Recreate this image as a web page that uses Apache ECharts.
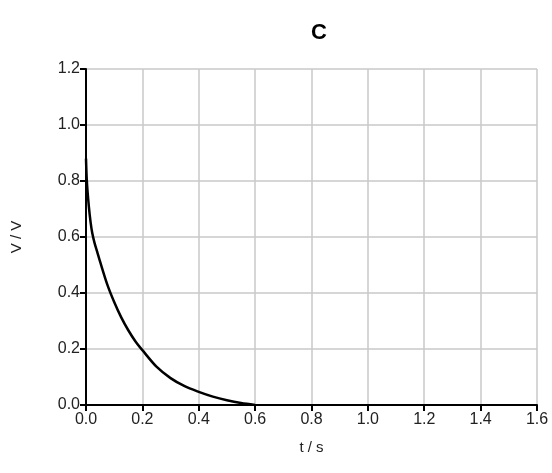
<!DOCTYPE html>
<html>
<head>
<meta charset="utf-8">
<script src="https://cdn.jsdelivr.net/npm/echarts@6/dist/echarts.min.js"></script>
<style>
  html, body { margin: 0; padding: 0; background: #fff; }
  #chart { width: 552px; height: 473px; }
</style>
</head>
<body>
<div id="chart"></div>
<script>
// Voltage decay over time
const timeS = [0, 0.003, 0.01, 0.016, 0.022, 0.03, 0.04, 0.05, 0.075, 0.1, 0.125, 0.15, 0.175, 0.2, 0.25, 0.3, 0.35, 0.4, 0.45, 0.5, 0.55, 0.6];
const voltageV = [0.88, 0.8, 0.71, 0.655, 0.615, 0.58, 0.546, 0.512, 0.432, 0.368, 0.313, 0.267, 0.228, 0.196, 0.137, 0.096, 0.067, 0.047, 0.03, 0.017, 0.007, 0];

const titleText = 'C';
const xName = 't / s';
const yName = 'V / V';

const chart = echarts.init(document.getElementById('chart'));
const font = 'Liberation Sans, Arial, sans-serif';

chart.setOption({
  animation: false,
  title: {
    text: titleText,
    left: 314, top: 17, textAlign: 'center',
    textStyle: { fontFamily: font, fontSize: 22, fontWeight: 'bold', color: '#000' }
  },
  grid: { left: 86, right: 15, top: 69, bottom: 68 },
  xAxis: {
    type: 'value', min: 0, max: 1.6, interval: 0.2,
    name: xName, nameLocation: 'middle', nameGap: 35,
    nameTextStyle: { fontFamily: font, fontSize: 15, color: '#222' },
    axisLine: { onZero: false, lineStyle: { color: '#000', width: 2 } },
    axisTick: { show: true, length: 6, lineStyle: { color: '#000', width: 2 } },
    axisLabel: { fontFamily: font, fontSize: 16, color: '#222', margin: 7,
      formatter: v => v.toFixed(1) },
    splitLine: { show: true, lineStyle: { color: '#c8c8c8', width: 1.5 } }
  },
  yAxis: {
    type: 'value', min: 0, max: 1.2, interval: 0.2,
    name: yName, nameLocation: 'middle', nameGap: 62,
    nameTextStyle: { fontFamily: font, fontSize: 15, color: '#222' },
    axisLine: { show: true, onZero: false, lineStyle: { color: '#000', width: 2 } },
    axisTick: { show: true, length: 6, lineStyle: { color: '#000', width: 2 } },
    axisLabel: { fontFamily: font, fontSize: 16, color: '#222', margin: 6,
      formatter: v => v.toFixed(1) },
    splitLine: { show: true, lineStyle: { color: '#c8c8c8', width: 1.5 } }
  },
  series: [{
    type: 'line',
    data: timeS.map((t, i) => [t, voltageV[i]]),
    smooth: 0.3,
    showSymbol: false,
    lineStyle: { color: '#000', width: 2.5 },
    z: 3
  }]
});
</script>
</body>
</html>
